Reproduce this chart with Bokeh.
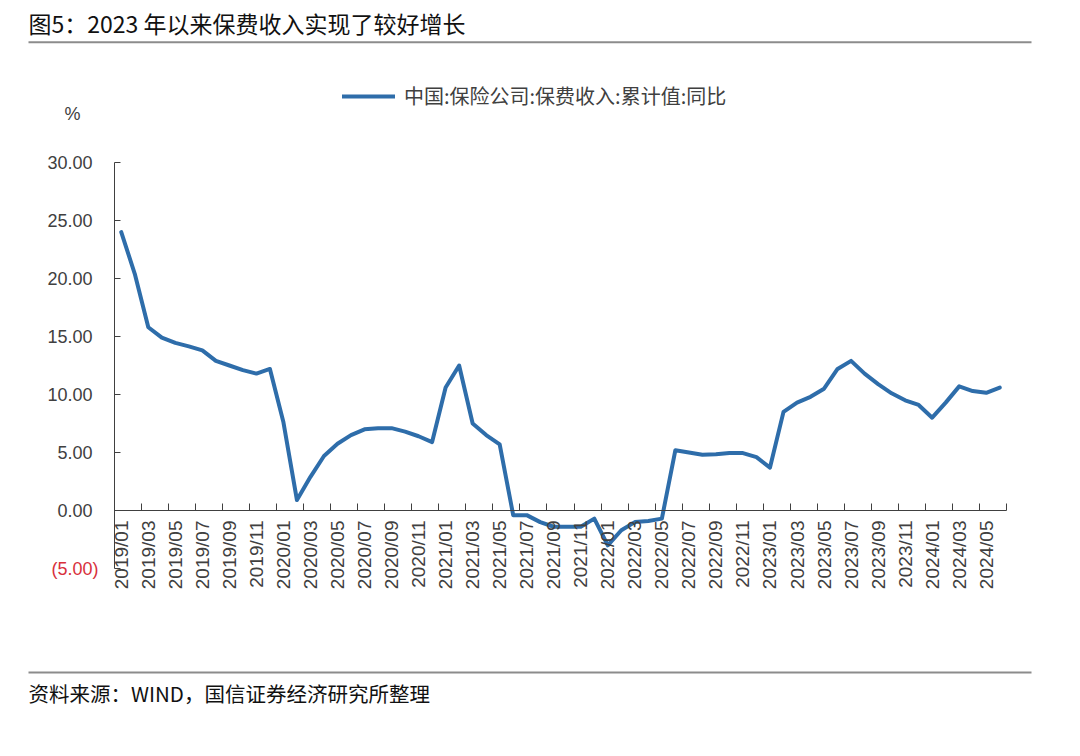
import math
from bokeh.plotting import figure
from bokeh.models import (Range1d, LinearAxis, FixedTicker, NumeralTickFormatter,
                          Label, Legend, LegendItem, ColumnDataSource)
from bokeh.embed import file_html
from bokeh.resources import INLINE

# ---------------- data ----------------
title_text = "图5：2023 年以来保费收入实现了较好增长"
source_text = "资料来源：WIND，国信证券经济研究所整理"
series_name = "中国:保险公司:保费收入:累计值:同比"
unit_text = "%"

months = [f"{y}/{m:02d}" for y in range(2019, 2025) for m in range(1, 13)][:66]

yoy_values = [
    24.0, 20.4, 15.8, 14.9, 14.45, 14.15, 13.8, 12.9, 12.5, 12.1, 11.8, 12.2,   # 2019
    7.6, 0.9, 2.9, 4.7, 5.75, 6.5, 7.0, 7.1, 7.1, 6.8, 6.4, 5.9,                # 2020
    10.6, 12.5, 7.5, 6.5, 5.7, -0.4, -0.4, -1.0, -1.4, -1.4, -1.4, -0.7,        # 2021
    -3.0, -1.7, -1.0, -0.9, -0.7, 5.2, 5.0, 4.8, 4.85, 4.95, 4.95, 4.6,         # 2022
    3.7, 8.5, 9.3, 9.8, 10.5, 12.2, 12.9, 11.8, 10.9, 10.1, 9.5, 9.1,           # 2023
    8.0, 9.3, 10.7, 10.3, 10.15, 10.6,                                          # 2024
]

y_ticks = [0, 5, 10, 15, 20, 25, 30]
neg_ticks = [-5]
y_min, y_max = -5, 30

# ---------------- layout / styling ----------------
W, H = 1064, 740                  # canvas = frame
PLOT_LEFT, PLOT_RIGHT = 114, 1006  # pixel positions of the category axis ends
PLOT_TOP = 162                     # pixel position of y_max
LINE_COLOR = "#2E6DAA"
AXIS_COLOR = "#404040"
TEXT_COLOR = "#404040"
NUM_FONT = "Liberation Sans"
CJK_FONT = "Noto Sans CJK SC"

n = len(months)
x_lo, x_hi = -0.5, n - 0.5
px_per_x = (PLOT_RIGHT - PLOT_LEFT) / (x_hi - x_lo)
px_per_y = 11.6
x_start = x_lo - PLOT_LEFT / px_per_x
x_end = x_start + W / px_per_x
y_end = y_max + PLOT_TOP / px_per_y
y_start = y_end - H / px_per_y


def px_x(px):   # canvas pixel -> data x
    return x_start + px / px_per_x


def px_y(py):   # canvas pixel (from top) -> data y
    return y_end - py / px_per_y


p = figure(width=W, height=H, x_range=Range1d(x_start, x_end), y_range=Range1d(y_start, y_end),
           toolbar_location=None, output_backend="svg", min_border=0,
           x_axis_type=None, y_axis_type=None, outline_line_color=None)
p.grid.visible = False

x_idx = list(range(n))
src = ColumnDataSource(dict(x=x_idx, y=yoy_values))
r = p.line(x="x", y="y", source=src, line_width=4, line_color=LINE_COLOR,
           line_join="round", line_cap="round")

# y axis (positive values)
yax = LinearAxis(ticker=FixedTicker(ticks=y_ticks), bounds=(y_min, y_max),
                 formatter=NumeralTickFormatter(format="0.00"),
                 major_tick_in=6, major_tick_out=0, minor_tick_in=0, minor_tick_out=0,
                 major_label_standoff=22, axis_line_color=AXIS_COLOR,
                 major_tick_line_color=AXIS_COLOR,
                 major_label_text_font=NUM_FONT, major_label_text_font_size="18px",
                 major_label_text_color=TEXT_COLOR)
yax.fixed_location = x_lo
p.add_layout(yax, "left")

# y axis negative label in red, accounting style
yneg = LinearAxis(ticker=FixedTicker(ticks=neg_ticks), bounds=(y_min, y_max),
                  formatter=NumeralTickFormatter(format="(0.00)"),
                  major_tick_in=6, major_tick_out=0, minor_tick_in=0, minor_tick_out=0,
                  major_label_standoff=16, axis_line_color=None,
                  major_tick_line_color=AXIS_COLOR,
                  major_label_text_font=NUM_FONT, major_label_text_font_size="18px",
                  major_label_text_color="#D8303C")
yneg.fixed_location = x_lo
p.add_layout(yneg, "left")

# x axis at y = 0: labels at category centres, ticks at category boundaries
label_ticks = list(range(0, n, 2))
boundary_ticks = [i - 0.5 for i in range(0, n + 1, 2)]
xax = LinearAxis(ticker=FixedTicker(ticks=label_ticks, minor_ticks=boundary_ticks),
                 bounds=(x_lo, x_hi),
                 major_label_overrides={i: months[i] for i in label_ticks},
                 major_tick_in=0, major_tick_out=0, minor_tick_in=7, minor_tick_out=0,
                 major_label_standoff=10, axis_line_color=AXIS_COLOR,
                 minor_tick_line_color=AXIS_COLOR,
                 major_label_orientation=math.pi / 2,
                 major_label_text_font=NUM_FONT, major_label_text_font_size="19px",
                 major_label_text_color=TEXT_COLOR)
xax.fixed_location = 0
p.add_layout(xax, "below")

# unit label
p.add_layout(Label(x=px_x(72), y=px_y(113), text=unit_text, text_align="center",
                   text_baseline="middle", text_font=NUM_FONT, text_font_size="18px",
                   text_color=TEXT_COLOR))

# title and rule
p.add_layout(Label(x=px_x(28), y=px_y(22), text=title_text, text_align="left",
                   text_baseline="middle", text_font=CJK_FONT, text_font_size="23px",
                   text_color="#111111"))
p.segment(x0=[px_x(28)], y0=[px_y(41.7)], x1=[px_x(1031)], y1=[px_y(41.7)],
          line_color="#8c8c8c", line_width=2)

# footer rule and source
p.segment(x0=[px_x(28)], y0=[px_y(672)], x1=[px_x(1031)], y1=[px_y(672)],
          line_color="#8c8c8c", line_width=2)
p.add_layout(Label(x=px_x(28), y=px_y(692), text=source_text, text_align="left",
                   text_baseline="middle", text_font=CJK_FONT, text_font_size="20.5px",
                   text_color="#111111"))

legend = Legend(items=[LegendItem(label=series_name, renderers=[r])],
                location=(342, 630), orientation="horizontal", padding=0, margin=0,
                border_line_color=None, background_fill_alpha=0,
                glyph_width=53, glyph_height=20, label_height=20, label_standoff=9,
                label_text_font=CJK_FONT, label_text_font_size="20px",
                label_text_color=TEXT_COLOR)
p.add_layout(legend, "center")

open("out.html", "w").write(file_html(p, INLINE))
